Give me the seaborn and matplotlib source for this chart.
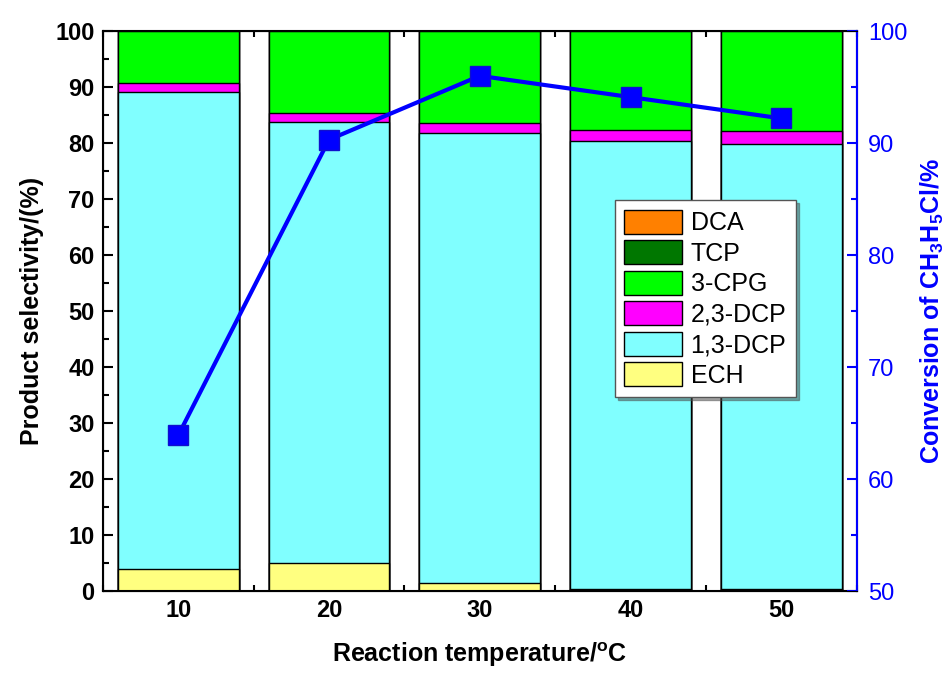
import matplotlib
matplotlib.use("Agg")
import matplotlib.pyplot as plt
from matplotlib.patches import Patch
from matplotlib.ticker import MultipleLocator
import seaborn as sns
import pandas as pd

# 반응 온도별 생성물 선택도 (%), 아래에서 위로 쌓는 순서
temps = [10, 20, 30, 40, 50]
ech = [3.9, 5.0, 1.5, 0.3, 0.3]
dcp13 = [85.3, 78.8, 80.3, 80.1, 79.6]
dcp23 = [1.5, 1.5, 1.7, 1.9, 2.2]
cpg = [9.3, 14.7, 16.5, 17.7, 17.9]
tcp = [0, 0, 0, 0, 0]
dca = [0, 0, 0, 0, 0]
conversion = [63.9, 90.3, 96.0, 94.1, 92.2]

names = ['ECH', '1,3-DCP', '2,3-DCP', '3-CPG', 'TCP', 'DCA']
colors = ['#ffff80', '#80ffff', '#ff00ff', '#00ff00', '#007700', '#ff8000']


def main():
    sns.set_style('ticks')
    plt.rcParams['font.family'] = ['Liberation Sans', 'DejaVu Sans']
    plt.rcParams['mathtext.fontset'] = 'custom'
    plt.rcParams['mathtext.rm'] = 'Liberation Sans'
    plt.rcParams['mathtext.bf'] = 'Liberation Sans:bold'
    plt.rcParams['axes.edgecolor'] = 'black'
    plt.rcParams['xtick.color'] = 'black'
    plt.rcParams['ytick.color'] = 'black'
    plt.rcParams['text.color'] = 'black'
    plt.rcParams['axes.labelcolor'] = 'black'

    df = pd.DataFrame({'temp': temps, 'ECH': ech, '1,3-DCP': dcp13,
                       '2,3-DCP': dcp23, '3-CPG': cpg, 'TCP': tcp, 'DCA': dca})
    # 누적값: 가장 높은 층부터 그려서 아래층이 위를 덮도록
    cum = df[names].cumsum(axis=1)

    fig = plt.figure(figsize=(9.52, 6.75), dpi=100)
    ax = fig.add_axes([0.108, 0.1244, 0.792, 0.8296])

    for name, color in reversed(list(zip(names, colors))):
        sns.barplot(x=df['temp'], y=cum[name], color=color, native_scale=True,
                    width=0.8, edgecolor='black', linewidth=1.0,
                    errorbar=None, saturation=1, ax=ax)

    ax.set_xlim(5, 55)
    ax.set_ylim(0, 100)
    ax.xaxis.set_major_locator(MultipleLocator(10))
    ax.xaxis.set_minor_locator(MultipleLocator(5))
    ax.yaxis.set_major_locator(MultipleLocator(10))
    ax.yaxis.set_minor_locator(MultipleLocator(5))
    ax.tick_params(which='both', direction='in', top=True, width=1.5)
    ax.tick_params(which='major', length=7, labelsize=17, pad=6)
    ax.tick_params(which='minor', length=4)
    ax.tick_params(axis='y', right=False)
    for lab in ax.get_xticklabels() + ax.get_yticklabels():
        lab.set_fontweight('bold')
    for sp in ax.spines.values():
        sp.set_linewidth(1.5)
        sp.set_visible(True)
    ax.set_xlabel('Reaction temperature/$^\\mathbf{o}$C', fontsize=18,
                  fontweight='bold', labelpad=13)
    ax.set_ylabel('Product selectivity/(%)', fontsize=18, fontweight='bold',
                  labelpad=8)

    ax2 = ax.twinx()
    sns.lineplot(x=temps, y=conversion, ax=ax2, color='#0000ff', linewidth=3,
                 marker='s', markersize=15, markerfacecolor='#0000ff',
                 markeredgecolor='#1010cc', markeredgewidth=1)
    ax2.set_ylim(50, 100)
    ax2.yaxis.set_major_locator(MultipleLocator(10))
    ax2.yaxis.set_minor_locator(MultipleLocator(5))
    ax2.tick_params(axis='y', which='both', direction='in', colors='#0000ff',
                    width=1.5, labelsize=17, pad=8)
    ax2.tick_params(axis='y', which='major', length=7)
    ax2.tick_params(axis='y', which='minor', length=4)
    ax2.spines['right'].set_color('#0000ff')
    ax2.spines['right'].set_linewidth(1.5)
    ax2.set_ylabel('Conversion of CH$_\\mathbf{3}$H$_\\mathbf{5}$Cl/%',
                   fontsize=18, fontweight='bold', color='#0000ff',
                   labelpad=8)

    handles = [Patch(facecolor=c, edgecolor='black', linewidth=1.0, label=n)
               for n, c in zip(names, colors)][::-1]
    leg = ax2.legend(handles=handles, loc='upper left',
                     bbox_to_anchor=(0.679, 0.698), borderaxespad=0,
                     prop={'size': 18}, frameon=True, fancybox=False,
                     shadow=True, handlelength=2.3, handleheight=1.1,
                     labelspacing=0.2, handletextpad=0.35, borderpad=0.38)
    leg.get_frame().set_edgecolor('#555555')
    leg.get_frame().set_linewidth(1.0)

    fig.savefig('out.png', dpi=100)
    plt.close(fig)


if __name__ == "__main__":
    main()
